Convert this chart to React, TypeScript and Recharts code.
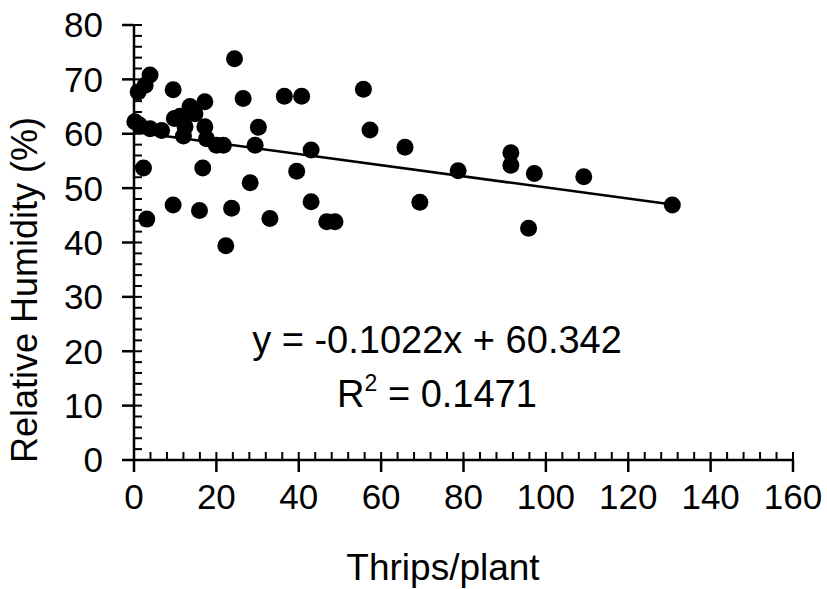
import { ScatterChart, Scatter, XAxis, YAxis, ReferenceLine } from "recharts";

// thrips per plant (x) and relative humidity % (y)
const thrips = [
  0.2, 1.3, 1, 2.7, 3.9, 9.5, 24.4, 26.5, 36.5, 40.7, 55.7, 17.2, 13.6, 11.2,
  14.8, 9.8, 12.4, 12, 3.9, 6.7, 17.2, 17.6, 20, 21.7, 30.2, 29.4, 43, 57.3,
  65.8, 2.3, 16.7, 39.5, 28.2, 78.7, 91.5, 91.5, 97.2, 109.2, 130.7, 9.5, 15.9,
  23.7, 43, 69.4, 3.1, 33, 46.8, 48.8, 22.3, 95.8,
];
const humidity = [
  62.2, 61.6, 67.7, 68.9, 70.8, 68.1, 73.8, 66.5, 66.9, 66.9, 68.2, 65.9, 65,
  63.2, 63.7, 62.8, 61.3, 59.6, 60.9, 60.6, 61.3, 59.1, 57.9, 57.9, 61.2, 57.9,
  57, 60.7, 57.5, 53.7, 53.7, 53.1, 51, 53.2, 56.5, 54.2, 52.7, 52.1, 46.9,
  46.9, 45.9, 46.3, 47.5, 47.4, 44.3, 44.4, 43.8, 43.8, 39.4, 42.6,
];

// major (labelled) ticks and all ticks incl. minor ones
const xMajor = [0, 20, 40, 60, 80, 100, 120, 140, 160];
const yMajor = [0, 10, 20, 30, 40, 50, 60, 70, 80];
const xAllTicks = [
  0, 4, 8, 12, 16, 20, 24, 28, 32, 36, 40, 44, 48, 52, 56, 60, 64, 68, 72, 76,
  80, 84, 88, 92, 96, 100, 104, 108, 112, 116, 120, 124, 128, 132, 136, 140,
  144, 148, 152, 156, 160,
];
const yAllTicks = [
  0, 2, 4, 6, 8, 10, 12, 14, 16, 18, 20, 22, 24, 26, 28, 30, 32, 34, 36, 38,
  40, 42, 44, 46, 48, 50, 52, 54, 56, 58, 60, 62, 64, 66, 68, 70, 72, 74, 76,
  78, 80,
];

const slope = -0.1022;
const intercept = 60.342;

const points = thrips.map((x, i) => ({ x, y: humidity[i] }));
const xMin = Math.min(...thrips);
const xMax = Math.max(...thrips);

const font = '"Liberation Sans", Arial, sans-serif';
const MAJOR = 12;
const MINOR = 8;
const X_GAP = 12;
const Y_GAP = 19;

const dot = (props: any) => <circle cx={props.cx} cy={props.cy} r={8.5} fill="#000" />;

// draws tick marks (major outward, minor inward) plus labels for major values
const XTick = (props: any) => {
  const { x, y, payload } = props;
  const axisY = y - MAJOR - X_GAP;
  const major = xMajor.includes(payload.value);
  return (
    <g>
      <line x1={x} x2={x} y1={axisY} y2={axisY - MINOR} stroke="#000" strokeWidth={2} />
      {major && <line x1={x} x2={x} y1={axisY} y2={axisY + MAJOR} stroke="#000" strokeWidth={2.5} />}
      {major && (
        <text x={x} y={y} dy="0.71em" textAnchor="middle" fontSize={35} fontFamily={font} fill="#000">
          {payload.value}
        </text>
      )}
    </g>
  );
};

const YTick = (props: any) => {
  const { x, y, payload } = props;
  const axisX = x + MAJOR + Y_GAP;
  const major = yMajor.includes(payload.value);
  return (
    <g>
      <line x1={axisX} x2={axisX + MINOR} y1={y} y2={y} stroke="#000" strokeWidth={2} />
      {major && <line x1={axisX - MAJOR} x2={axisX} y1={y} y2={y} stroke="#000" strokeWidth={2.5} />}
      {major && (
        <text x={x} y={y} dy="0.355em" textAnchor="end" fontSize={35} fontFamily={font} fill="#000">
          {payload.value}
        </text>
      )}
    </g>
  );
};

export default function App() {
  return (
    <div style={{ position: "absolute", left: 0, top: 0, background: "#fff" }}>
      <ScatterChart
        width={827}
        height={589}
        margin={{ top: 25, right: 34, bottom: 0, left: 0 }}
        style={{ fontFamily: font }}
      >
        <XAxis
          type="number"
          dataKey="x"
          domain={[0, 160]}
          ticks={xAllTicks}
          interval={0}
          height={129}
          tickSize={MAJOR}
          tickMargin={X_GAP}
          axisLine={{ stroke: "#000", strokeWidth: 2.5 }}
          tickLine={false}
          tick={<XTick />}
        />
        <YAxis
          type="number"
          dataKey="y"
          domain={[0, 80]}
          ticks={yAllTicks}
          interval={0}
          width={134}
          tickSize={MAJOR}
          tickMargin={Y_GAP}
          axisLine={{ stroke: "#000", strokeWidth: 2.5 }}
          tickLine={false}
          tick={<YTick />}
        />
        <ReferenceLine
          segment={[
            { x: xMin, y: slope * xMin + intercept },
            { x: xMax, y: slope * xMax + intercept },
          ]}
          stroke="#000"
          strokeWidth={2.5}
        />
        <Scatter data={points} shape={dot} isAnimationActive={false} />
        <text x={437} y={353} textAnchor="middle" fontSize={38} fontFamily={font} fill="#000">
          y = -0.1022x + 60.342
        </text>
        <text x={437} y={407} textAnchor="middle" fontSize={38} fontFamily={font} fill="#000">
          R<tspan fontSize={23} dy={-16}>2</tspan>
          <tspan dy={16}> = 0.1471</tspan>
        </text>
        <text x={443} y={580} textAnchor="middle" fontSize={37} fontFamily={font} fill="#000">
          Thrips/plant
        </text>
        <text
          x={0}
          y={0}
          transform="translate(37 290) rotate(-90)"
          textAnchor="middle"
          fontSize={36}
          fontFamily={font}
          fill="#000"
        >
          Relative Humidity (%)
        </text>
      </ScatterChart>
    </div>
  );
}
